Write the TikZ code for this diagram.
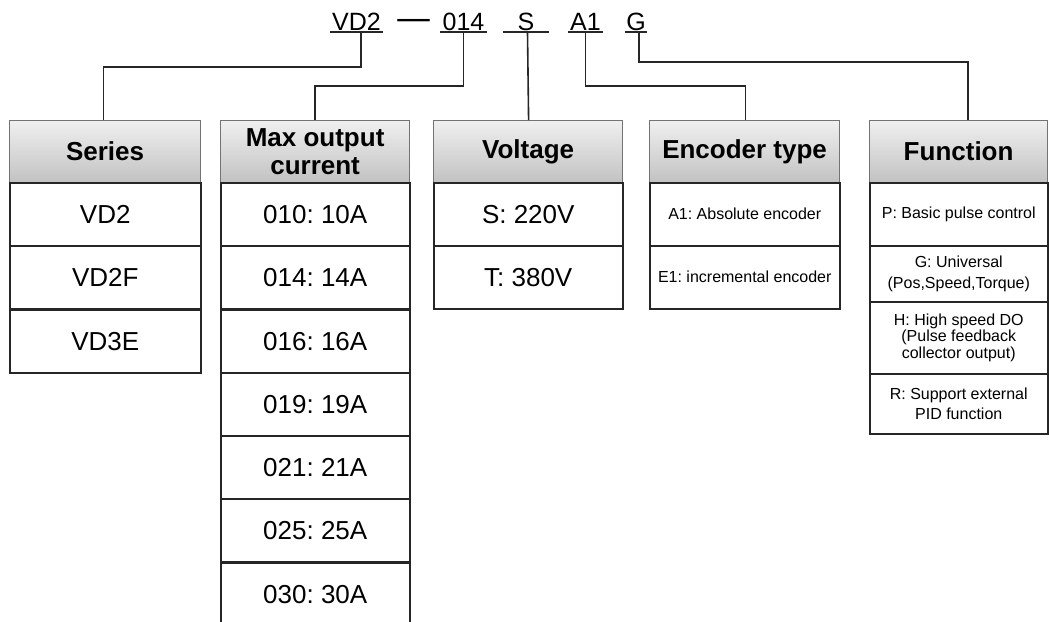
\documentclass[tikz,border=0pt]{standalone}
\usepackage{fontspec}
\setmainfont{Liberation Sans}
\frenchspacing
\begin{document}
\begin{tikzpicture}[x=1pt,y=-1pt,
  hdr/.style={draw=gray!90!black, line width=1.2pt, top color=gray!12, bottom color=gray!48,
    anchor=north west, inner sep=0pt, minimum height=62pt, align=center,
    font=\bfseries\fontsize{26}{30}\selectfont},
  cell/.style={draw=black!85, line width=1.5pt, fill=white, anchor=north west, inner sep=0pt,
    minimum height=63pt, align=center, font=\fontsize{26}{30}\selectfont},
  small/.style={font=\fontsize{16}{20}\selectfont},
  tight/.style={font=\fontsize{16}{16.5}\selectfont},
  code/.style={inner sep=0pt, text height=18pt, text depth=2pt, font=\fontsize{25}{30}\selectfont},
  uline/.style={line width=1.6pt, black!85},
  conn/.style={line width=1.6pt, black!85},
]
\clip (0,0) rectangle (1049,621);
\fill[white] (0,0) rectangle (1049,621);

% code line
\node[code, minimum width=53pt] (cVD) at (356.5,22) {VD2};
\node[code, minimum width=47pt] (cC) at (463.5,22) {014};
\node[code, minimum width=46pt] (cS) at (526,22) {S};
\node[code, minimum width=35pt] (cA) at (585.5,22) {A1};
\node[code, minimum width=22pt] (cG) at (636,22) {G};
\node[inner sep=0pt, font=\fontsize{25}{30}\selectfont] (dash) at (413.5,24.5) {\scalebox{1.3}[1.4]{—}};
\foreach \n in {cVD,cC,cS,cA,cG} \draw[uline] (\n.south west) -- (\n.south east);

% Series
\node[hdr, minimum width=191pt] (hSer) at (9,120) {Series};
\node[cell, minimum width=191pt] (s1) at (9,182) {VD2};
\node[cell, minimum width=191pt] (s2) at (9,245) {VD2F};
\node[cell, minimum width=191pt] (s3) at (9,309) {VD3E};

% Max output current
\node[hdr, minimum width=189pt] (hMax) at (220,120) {Max output\\[-2pt]current};
\node[cell, minimum width=189pt] (m1) at (220,182) {010: 10A};
\node[cell, minimum width=189pt] (m2) at (220,245) {014: 14A};
\node[cell, minimum width=189pt] (m3) at (220,309) {016: 16A};
\node[cell, minimum width=189pt] (m4) at (220,372) {019: 19A};
\node[cell, minimum width=189pt] (m5) at (220,435) {021: 21A};
\node[cell, minimum width=189pt] (m6) at (220,498) {025: 25A};
\node[cell, minimum width=189pt] (m7) at (220,562) {030: 30A};

% Voltage
\node[hdr, minimum width=189pt] (hVol) at (433,120) {Voltage};
\node[cell, minimum width=189pt] (v1) at (433,182) {S: 220V};
\node[cell, minimum width=189pt] (v2) at (433,245) {T: 380V};

% Encoder
\node[hdr, minimum width=190pt] (hEnc) at (649,120) {Encoder type};
\node[cell, small, minimum width=190pt] (e1) at (649,182) {A1: Absolute encoder};
\node[cell, small, minimum width=190pt] (e2) at (649,245) {E1: incremental encoder};

% Function
\node[hdr, minimum width=178pt] (hFun) at (869,120) {Function};
\node[cell, small, minimum width=178pt] (f1) at (869,182) {P: Basic pulse control};
\node[cell, small, minimum width=178pt, minimum height=56pt, font=\fontsize{16}{21}\selectfont] (f2) at (869,245) {G: Universal\\(Pos,Speed,Torque)};
\node[cell, tight, minimum width=178pt, minimum height=72pt] (f3) at (869,301) {H: High speed DO\\(Pulse feedback\\collector output)};
\node[cell, small, minimum width=178pt, minimum height=60pt] (f4) at (869,373) {R: Support external\\PID function};

% connectors
\draw[conn] ([xshift=4.5pt]cVD.south) -- ++(0,35) -| ([xshift=-1.5pt]hSer.north);
\draw[conn] (cC.south) -- ++(0,54) -| (hMax.north);
\draw[conn] ([xshift=1.5pt]cS.south) -- ([xshift=0.5pt]hVol.north);
\draw[conn] (cA.south) -- ++(0,54) -| ([xshift=1pt]hEnc.north);
\draw[conn] ([xshift=3pt]cG.south) -- ++(0,30) -| ([xshift=9.5pt]hFun.north);
\end{tikzpicture}
\end{document}
